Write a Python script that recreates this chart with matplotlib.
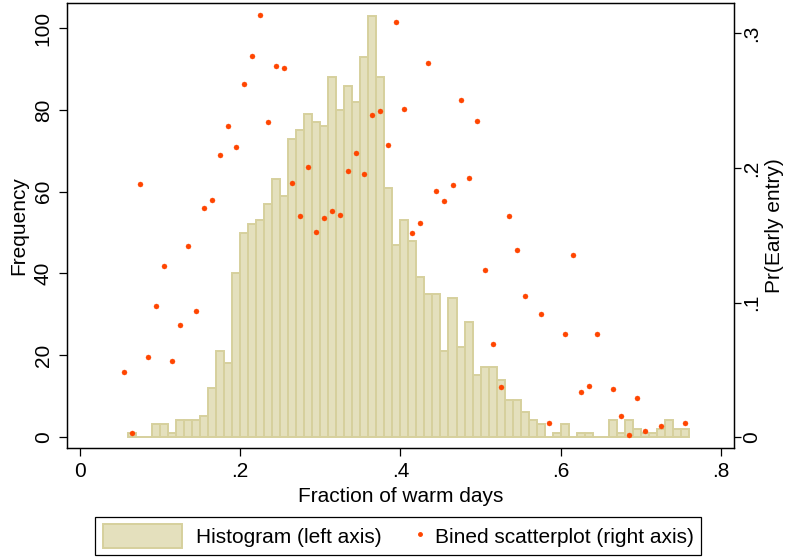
import numpy as np
import matplotlib
matplotlib.use("Agg")
import matplotlib.pyplot as plt
from matplotlib.patches import Patch
from matplotlib.lines import Line2D
from matplotlib.legend_handler import HandlerLine2D

plt.rcParams["font.family"] = ["Liberation Sans", "DejaVu Sans"]

# histogram: left edge of each 0.01-wide bin and its count
bin_left = np.round(np.arange(0.06, 0.76, 0.01), 2)
counts = [1, 0, 0, 3, 3, 1, 4, 4, 4, 5,
          12, 21, 18, 40, 50, 52, 53, 57, 63, 59,
          73, 75, 79, 77, 76, 88, 80, 86, 82, 93,
          103, 88, 61, 47, 53, 48, 39, 35, 35, 21,
          34, 22, 28, 15, 17, 17, 14, 9, 9, 6,
          4, 3, 0, 1, 3, 0, 1, 1, 0, 0,
          4, 1, 4, 2, 1, 1, 2, 4, 2, 2]

# binned scatterplot (right axis)
bin_mid = [0.055, 0.065, 0.075, 0.085, 0.095, 0.105, 0.115, 0.125, 0.135, 0.145,
           0.155, 0.165, 0.175, 0.185, 0.195, 0.205, 0.215, 0.225, 0.235, 0.245,
           0.255, 0.265, 0.275, 0.285, 0.295, 0.305, 0.315, 0.325, 0.335, 0.345,
           0.355, 0.365, 0.375, 0.385, 0.395, 0.405, 0.415, 0.425, 0.435, 0.445,
           0.455, 0.465, 0.475, 0.485, 0.495, 0.505, 0.515, 0.525, 0.535, 0.545,
           0.555, 0.575, 0.585, 0.605, 0.615, 0.625, 0.635, 0.645, 0.665, 0.675,
           0.685, 0.695, 0.705, 0.725, 0.755]
pr_early = [0.048, 0.003, 0.188, 0.0595, 0.0975, 0.1274, 0.0564, 0.0832, 0.1418, 0.0936,
            0.1705, 0.1762, 0.2096, 0.2312, 0.2156, 0.2626, 0.2834, 0.3134, 0.2341, 0.2757,
            0.2747, 0.1886, 0.1643, 0.2005, 0.1524, 0.1628, 0.168, 0.165, 0.1978, 0.2111,
            0.1953, 0.2396, 0.2421, 0.2168, 0.3082, 0.2438, 0.1519, 0.1591, 0.2782, 0.1827,
            0.1755, 0.1871, 0.2505, 0.1923, 0.2349, 0.124, 0.0693, 0.0371, 0.1641, 0.1391,
            0.1051, 0.0918, 0.0101, 0.0767, 0.1356, 0.0331, 0.0383, 0.0769, 0.0356, 0.0153,
            0.0017, 0.029, 0.0042, 0.0084, 0.0104]

xticks = [0, 0.2, 0.4, 0.6, 0.8]
xtick_labels = ["0", ".2", ".4", ".6", ".8"]
yticks_left = [0, 20, 40, 60, 80, 100]
yticks_right = [0, 0.1, 0.2, 0.3]
ytick_right_labels = ["0", ".1", ".2", ".3"]

bar_face = "#e4e0bd"
bar_edge = "#d6d09d"
dot_col = "#ff4500"
fs = 15


class MarkerAtEnd(HandlerLine2D):
    # stata puts the marker right next to the label text
    def get_xdata(self, legend, xdescent, ydescent, width, height, fontsize):
        x = width - xdescent - 1
        return np.array([x, x]), np.array([x])


fig = plt.figure(figsize=(7.9, 5.59), dpi=100)
ax = fig.add_axes([0.0844, 0.198, 0.8447, 0.7972])

ax.bar(bin_left, counts, width=0.01, align="edge",
       color=bar_face, edgecolor=bar_edge, linewidth=1.4, zorder=2)
ax.set_xlim(-0.0161, 0.816)
ax.set_ylim(-2.84, 106.3)
ax.set_xticks(xticks)
ax.set_xticklabels(xtick_labels)
ax.set_yticks(yticks_left)
ax.tick_params(axis="y", labelrotation=90)
for lab in ax.get_yticklabels():
    lab.set_va("center")
ax.tick_params(direction="out", length=6, width=0.9, labelsize=fs, pad=4)
ax.set_xlabel("Fraction of warm days", fontsize=fs, labelpad=4)
ax.set_ylabel("Frequency", fontsize=fs, labelpad=4)

ax2 = ax.twinx()
ax2.plot(bin_mid, pr_early, linestyle="none", marker="o", markersize=3.6,
         markerfacecolor=dot_col, markeredgecolor=dot_col, markeredgewidth=0.3)
ax2.set_ylim(-0.0084, 0.3229)
ax2.set_yticks(yticks_right)
ax2.set_yticklabels(ytick_right_labels)
ax2.tick_params(axis="y", labelrotation=90)
for lab in ax2.get_yticklabels():
    lab.set_va("center")
ax2.tick_params(direction="out", length=5, width=0.9, labelsize=fs, pad=1)
ax2.set_ylabel("Pr(Early entry)", fontsize=fs, labelpad=3)

for a in (ax, ax2):
    for sp in a.spines.values():
        sp.set_color("black")
        sp.set_linewidth(0.9)

handles = [Patch(facecolor=bar_face, edgecolor=bar_edge, linewidth=1.4),
           Line2D([], [], linestyle="none", marker="o", markersize=2.5,
                  markerfacecolor=dot_col, markeredgecolor=dot_col)]
labels = ["Histogram (left axis)", "Bined scatterplot (right axis)"]
leg = fig.legend(handles, labels, loc="center", bbox_to_anchor=(0.504, 0.041),
                 ncol=2, fontsize=fs, frameon=True, fancybox=False,
                 edgecolor="black", framealpha=1, borderpad=0.35,
                 handlelength=3.8, handleheight=1.35, handletextpad=0.67,
                 columnspacing=-1.9,
                 handler_map={handles[1]: MarkerAtEnd(numpoints=1)})
leg.get_frame().set_linewidth(0.9)

fig.savefig("out.png", dpi=100)
